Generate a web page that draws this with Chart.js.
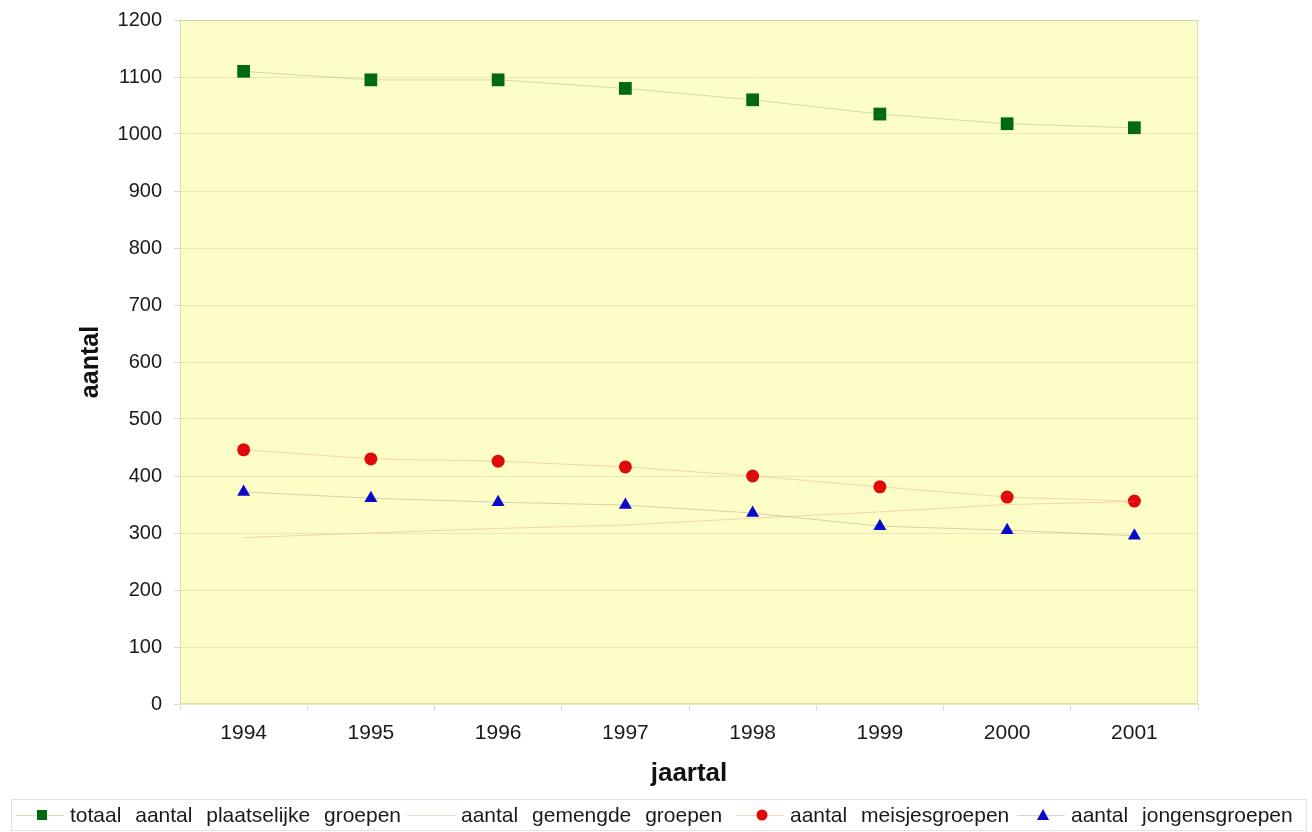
<!DOCTYPE html>
<html>
<head>
<meta charset="utf-8">
<script src="https://cdn.jsdelivr.net/npm/chart.js@4/dist/chart.umd.min.js"></script>
<style>
  html, body { margin: 0; padding: 0; background: #ffffff; }
  #wrap { width: 1312px; height: 832px; position: relative; }
</style>
</head>
<body>
<div id="wrap"><canvas id="c" width="1312" height="832"></canvas></div>
<script>
// Jaren en aantallen groepen
const years = ['1994', '1995', '1996', '1997', '1998', '1999', '2000', '2001'];
const totaal = [1110, 1095, 1095, 1080, 1060, 1035, 1018, 1011];
const gemengd = [292, 300, 308, 314, 326, 337, 350, 355];
const meisjes = [446, 430, 426, 416, 400, 381, 363, 356];
const jongens = [372, 361, 354, 349, 335, 312, 305, 295];
const yTicks = [0, 100, 200, 300, 400, 500, 600, 700, 800, 900, 1000, 1100, 1200];

const seriesLabels = [
  'totaal aantal plaatselijke groepen',
  'aantal gemengde groepen',
  'aantal meisjesgroepen',
  'aantal jongensgroepen'
];

const FONT = 'Arial, "Liberation Sans", sans-serif';

// Gele achtergrond van het tekengebied
const plotBackground = {
  id: 'plotBackground',
  beforeDraw(chart) {
    const { ctx, chartArea: a } = chart;
    ctx.save();
    ctx.fillStyle = '#FDFDC8';
    ctx.fillRect(a.left, a.top, a.right - a.left, a.bottom - a.top);
    ctx.restore();
  },
  afterDatasetsDraw(chart) {
    const { ctx, chartArea: a } = chart;
    ctx.save();
    ctx.strokeStyle = 'rgba(200,200,170,0.6)';
    ctx.lineWidth = 1;
    ctx.strokeRect(a.left + 0.5, a.top + 0.5, a.right - a.left - 1, a.bottom - a.top - 1);
    ctx.restore();
  }
};

// Legenda onderaan, met lijnstukje en markering per reeks
const bottomLegend = {
  id: 'bottomLegend',
  afterDraw(chart) {
    const { ctx } = chart;
    const top = 799, bottom = 830, left = 11, right = 1306;
    const cy = 815;
    ctx.save();
    ctx.fillStyle = '#ffffff';
    ctx.fillRect(left, top, right - left, bottom - top);
    ctx.strokeStyle = '#e2e2e2';
    ctx.lineWidth = 1;
    ctx.strokeRect(left + 0.5, top + 0.5, right - left, bottom - top);
    ctx.font = '21px ' + FONT;
    ctx.textBaseline = 'middle';
    ctx.fillStyle = '#1a1a1a';
    if ('wordSpacing' in ctx) ctx.wordSpacing = '8px';
    const xs = [42, 433, 762, 1043];
    chart.data.datasets.forEach((ds, i) => {
      const x = xs[i];
      ctx.strokeStyle = ds.borderColor;
      ctx.lineWidth = 1;
      ctx.beginPath();
      ctx.moveTo(x - 26, cy + 0.5);
      ctx.lineTo(x + 22, cy + 0.5);
      ctx.stroke();
      ctx.fillStyle = ds.pointBackgroundColor;
      if (ds.pointStyle === 'rect') {
        ctx.fillRect(x - 5, cy - 5, 10, 10);
      } else if (ds.pointStyle === 'circle') {
        ctx.beginPath(); ctx.arc(x, cy, 5.5, 0, Math.PI * 2); ctx.fill();
      } else if (ds.pointStyle === 'triangle') {
        ctx.beginPath();
        ctx.moveTo(x, cy - 6); ctx.lineTo(x + 6, cy + 5); ctx.lineTo(x - 6, cy + 5);
        ctx.closePath(); ctx.fill();
      }
      ctx.fillStyle = '#1a1a1a';
      ctx.fillText(ds.label, x + 28, cy + 1);
    });
    ctx.restore();
  }
};

const ds = (label, data, style, color, line, radius) => ({
  label, data,
  pointStyle: style,
  pointRadius: radius,
  pointHoverRadius: radius,
  pointBackgroundColor: color,
  pointBorderColor: color,
  pointBorderWidth: 0,
  borderColor: line,
  borderWidth: 1,
  backgroundColor: color,
  tension: 0,
  fill: false
});

new Chart(document.getElementById('c'), {
  type: 'line',
  data: {
    labels: years,
    datasets: [
      ds(seriesLabels[0], totaal, 'rect', '#006a10', 'rgba(150,170,110,0.4)', 9),
      ds(seriesLabels[1], gemengd, 'cross', 'rgba(230,150,130,0.5)', 'rgba(235,150,120,0.4)', 5),
      ds(seriesLabels[2], meisjes, 'circle', '#e00a0a', 'rgba(240,150,120,0.4)', 6.5),
      ds(seriesLabels[3], jongens, 'triangle', '#0a0ac8', 'rgba(150,150,130,0.4)', 7.5)
    ]
  },
  options: {
    responsive: false,
    animation: false,
    events: [],
    layout: { padding: { top: 20, right: 114, bottom: 38, left: 0 } },
    plugins: {
      legend: { display: false },
      tooltip: { enabled: false }
    },
    scales: {
      x: {
        type: 'category',
        offset: true,
        grid: {
          display: true,
          offset: true,
          drawOnChartArea: false,
          drawTicks: true,
          tickLength: 6,
          color: '#d8d8d8'
        },
        border: { display: false },
        ticks: {
          color: '#1a1a1a',
          font: { family: FONT, size: 21 },
          padding: 11,
          maxRotation: 0
        },
        title: {
          display: true,
          text: 'jaartal',
          color: '#111111',
          font: { family: FONT, size: 26, weight: 'bold' },
          padding: { top: 2, bottom: 5 }
        },
        afterFit(scale) {
          scale.height = 90;
          scale.paddingLeft = 0;
          scale.paddingRight = 0;
        }
      },
      y: {
        min: 0,
        max: 1200,
        afterBuildTicks(scale) { scale.ticks = yTicks.map(v => ({ value: v })); },
        grid: {
          color: '#ECE8B8',
          lineWidth: 1,
          drawTicks: true,
          tickLength: 6,
          tickColor: '#d8d8d8'
        },
        border: { display: false },
        ticks: {
          color: '#1a1a1a',
          font: { family: FONT, size: 20 },
          padding: 12,
          callback: (v) => String(v)
        },
        title: {
          display: true,
          text: 'aantal',
          color: '#111111',
          font: { family: FONT, size: 25, weight: 'bold' },
          padding: { top: 76, bottom: 0 }
        },
        afterFit(scale) {
          scale.width = 180;
          scale.paddingTop = 0;
          scale.paddingBottom = 0;
        }
      }
    }
  },
  plugins: [plotBackground, bottomLegend]
});
</script>
</body>
</html>
